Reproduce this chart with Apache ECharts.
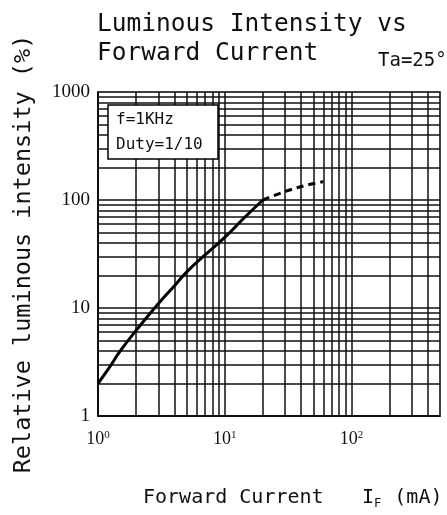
<!DOCTYPE html>
<html><head><meta charset="utf-8">
<script src="https://cdn.jsdelivr.net/npm/echarts@6/dist/echarts.min.js"></script>
<style>html,body{margin:0;padding:0;background:#fff}#c{width:447px;height:515px}</style>
</head><body><div id="c"></div>
<script>
// Forward current (mA) vs relative luminous intensity (%)
const currentSolid   = [1, 1.2, 1.5, 2, 3, 4, 5, 7, 10, 14, 20];
const intensitySolid = [2, 2.7, 4, 6.2, 11, 16, 21.5, 31, 45, 67, 100];
const currentDashed   = [20, 30, 42, 60];
const intensityDashed = [100, 120, 135, 148];
const xGridValues = [2,3,4,5,6,7,8,9,10,20,30,40,50,60,70,80,90,100,200,300,400];
const yGridValues = [2,3,4,5,6,7,8,9,10,20,30,40,50,60,70,80,90,100,200,300,400,500,600,700,800,900];
const yTickLabels = ['1','10','100','1000'];
const xTickBase = '10';

const mono = "'DejaVu Sans Mono', monospace";
const serif = "'Liberation Serif', serif";

function zip(a, b){ return a.map((v,i)=>[v, b[i]]); }
function expOf(v){ const e=Math.log10(v), r=Math.round(e); return Math.abs(e-r)<1e-6 ? r : null; }

const chart = echarts.init(document.getElementById('c'));
chart.setOption({
  animation:false,
  backgroundColor:'#fff',
  grid:{left:98,right:7,top:92,bottom:99,show:true,borderColor:'#000',borderWidth:1.5,backgroundColor:'transparent'},
  xAxis:{
    type:'log', logBase:10, min:1, max:500,
    axisLine:{show:true,lineStyle:{color:'#000',width:1.5}},
    axisTick:{show:false}, splitLine:{show:false}, minorTick:{show:false}, minorSplitLine:{show:false},
    axisLabel:{
      margin:14, showMaxLabel:false,
      formatter:v=>{const r=expOf(v); return r===null?'':'{b|'+xTickBase+'}{s|'+r+'}';},
      rich:{b:{fontFamily:serif,fontSize:18,color:'#111'},s:{fontFamily:serif,fontSize:11,color:'#111',verticalAlign:'top'}}
    }
  },
  yAxis:{
    type:'log', logBase:10, min:1, max:1000,
    name:'Relative luminous intensity (%)', nameLocation:'middle', nameRotate:90, nameGap:62,
    nameTextStyle:{fontFamily:mono,fontSize:23.5,color:'#111'},
    axisLine:{show:true,lineStyle:{color:'#000',width:1.5}},
    axisTick:{show:false}, splitLine:{show:false}, minorTick:{show:false}, minorSplitLine:{show:false},
    axisLabel:{margin:8,fontFamily:serif,fontSize:19,color:'#111',
      formatter:v=>{const r=expOf(v); return r===null?'':yTickLabels[r];}}
  },
  series:[
    {type:'line', data:[], z:1, silent:true,
     markLine:{silent:true,symbol:['none','none'],label:{show:false},animation:false,
       lineStyle:{color:'#111',width:1.5,type:'solid'},
       emphasis:{disabled:true},
       data:[...xGridValues.map(v=>({xAxis:v})), ...yGridValues.map(v=>({yAxis:v}))]}},
    {type:'line', data:zip(currentSolid,intensitySolid), smooth:0.5, showSymbol:false, z:5,
     lineStyle:{color:'#000',width:3}},
    {type:'line', data:zip(currentDashed,intensityDashed), smooth:0.4, showSymbol:false, z:5,
     lineStyle:{color:'#000',width:3,type:[7,5]}}
  ],
  graphic:[
    {type:'text', z:10, style:{text:'Luminous Intensity vs', x:97, y:25, font:'24.5px '+mono, fill:'#111', textVerticalAlign:'middle'}},
    {type:'text', z:10, style:{text:'Forward Current', x:97, y:54, font:'24.5px '+mono, fill:'#111', textVerticalAlign:'middle'}},
    {type:'text', z:10, style:{text:'Ta=25°', x:378, y:61, font:'19px '+mono, fill:'#111', textVerticalAlign:'middle'}},
    {type:'group', z:100, children:[
      {type:'rect', z:100, shape:{x:108,y:105,width:110,height:54}, style:{fill:'#fff',stroke:'#000',lineWidth:1.5}},
      {type:'text', z:101, style:{text:'f=1KHz', x:116, y:120, font:'16px '+mono, fill:'#111', textVerticalAlign:'middle'}},
      {type:'text', z:101, style:{text:'Duty=1/10', x:116, y:145, font:'16px '+mono, fill:'#111', textVerticalAlign:'middle'}}
    ]},
    {type:'text', z:10, style:{text:'Forward Current', x:143, y:498, font:'20px '+mono, fill:'#111', textVerticalAlign:'middle'}},
    {type:'text', z:10, style:{text:'{i|I}{sub|F}{i| (mA)}', x:362, y:498, fill:'#111', textVerticalAlign:'middle',
      rich:{i:{fontFamily:mono,fontSize:20,color:'#111'},sub:{fontFamily:mono,fontSize:12,color:'#111',verticalAlign:'bottom',padding:[12,1,0,0]}}}}
  ]
});
</script></body></html>
